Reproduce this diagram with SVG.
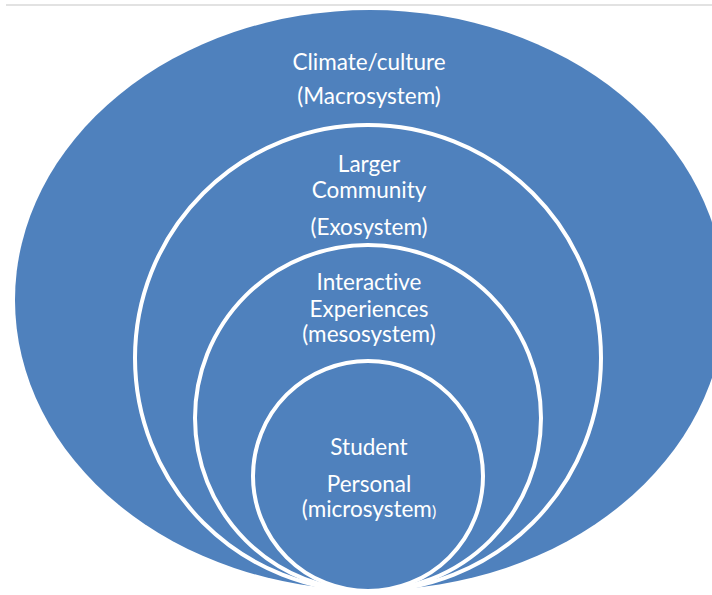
<svg xmlns="http://www.w3.org/2000/svg" width="712" height="595" viewBox="0 0 712 595">
  <style>
    .ring { fill: #4F81BD; stroke: #FFFFFF; stroke-width: 4; }
    .lbl { fill: #FFFFFF; font-family: Lato, "Open Sans", "Liberation Sans", sans-serif; font-size: 22.5px; text-anchor: middle; font-variant-ligatures: none; }
  </style>
  <rect x="0" y="0" width="712" height="595" fill="#FFFFFF"/>
  <line x1="6" y1="5" x2="712" y2="5" stroke="#D9D9D9" stroke-width="1.5"/>
  <g id="macrosystem">
    <ellipse cx="370" cy="300" rx="355" ry="290" fill="#4F81BD"/>
    <text class="lbl" x="369" y="70">Climate/culture</text>
    <text class="lbl" x="369" y="104">(Macrosystem)</text>
  </g>
  <g id="exosystem">
    <circle class="ring" cx="368" cy="358" r="233"/>
    <text class="lbl" x="369" y="172">Larger</text>
    <text class="lbl" x="369" y="198">Community</text>
    <text class="lbl" x="369" y="235">(Exosystem)</text>
  </g>
  <g id="mesosystem">
    <circle class="ring" cx="368" cy="418" r="173"/>
    <text class="lbl" x="369" y="290">Interactive</text>
    <text class="lbl" x="369" y="317">Experiences</text>
    <text class="lbl" x="369" y="342">(mesosystem)</text>
  </g>
  <g id="microsystem">
    <circle class="ring" cx="368" cy="476" r="115"/>
    <text class="lbl" x="369" y="455">Student</text>
    <text class="lbl" x="369" y="492">Personal</text>
    <text class="lbl" x="369" y="517">(microsystem<tspan font-size="16">)</tspan></text>
  </g>
  <g id="connectors"/>
</svg>
